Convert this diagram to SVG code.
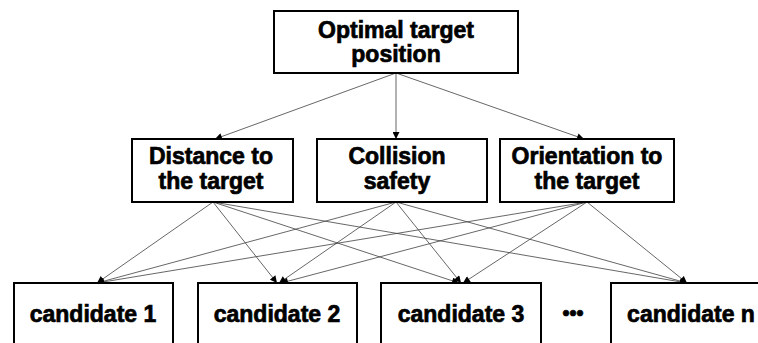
<svg xmlns="http://www.w3.org/2000/svg" width="758" height="343" viewBox="0 0 758 343">
<defs>
<style>
.box{fill:#fff;stroke:#000;stroke-width:2}
.t{font-family:"Liberation Sans",Arial,sans-serif;font-weight:bold;font-size:23px;fill:#000;stroke:#000;stroke-width:0.7;text-anchor:middle}
.e{stroke:#404040;stroke-width:0.8;fill:none;marker-end:url(#ah)}
</style>
<marker id="ah" viewBox="0 0 10 10" refX="10" refY="5" markerWidth="8" markerHeight="7" markerUnits="userSpaceOnUse" orient="auto">
<path d="M0,0 L10,5 L0,10 z" fill="#000"/>
</marker>
</defs>
<rect width="758" height="343" fill="#fff"/>
<g id="connectors">
<line class="e" x1="396" y1="73" x2="215" y2="139"/>
<line class="e" x1="396" y1="73" x2="396" y2="139"/>
<line class="e" x1="396" y1="73" x2="584" y2="139"/>
<line class="e" x1="213" y1="202" x2="97" y2="283"/>
<line class="e" x1="213" y1="202" x2="277" y2="283"/>
<line class="e" x1="213" y1="202" x2="459" y2="283"/>
<line class="e" x1="213" y1="202" x2="687" y2="283"/>
<line class="e" x1="396" y1="202" x2="97" y2="283"/>
<line class="e" x1="396" y1="202" x2="279" y2="283"/>
<line class="e" x1="396" y1="202" x2="461" y2="283"/>
<line class="e" x1="396" y1="202" x2="687" y2="283"/>
<line class="e" x1="587" y1="202" x2="97" y2="283"/>
<line class="e" x1="587" y1="202" x2="281" y2="283"/>
<line class="e" x1="587" y1="202" x2="463" y2="283"/>
<line class="e" x1="587" y1="202" x2="687" y2="283"/>
</g>
<g id="top">
<rect class="box" x="274" y="11" width="244" height="62"/>
<text class="t" x="396" y="38">Optimal target</text>
<text class="t" x="396" y="62">position</text>
</g>
<g id="distance">
<rect class="box" x="132" y="139" width="161" height="63"/>
<text class="t" x="211" y="164">Distance to</text>
<text class="t" x="211" y="189">the target</text>
</g>
<g id="collision">
<rect class="box" x="317" y="139" width="170" height="63"/>
<text class="t" x="397" y="164">Collision</text>
<text class="t" x="397" y="189">safety</text>
</g>
<g id="orientation">
<rect class="box" x="500" y="139" width="174" height="63"/>
<text class="t" x="587" y="164">Orientation to</text>
<text class="t" x="587" y="189">the target</text>
</g>
<g id="cand1">
<rect class="box" x="14" y="283" width="159" height="75"/>
<text class="t" x="93" y="322">candidate 1</text>
</g>
<g id="cand2">
<rect class="box" x="198" y="283" width="159" height="75"/>
<text class="t" x="277" y="322">candidate 2</text>
</g>
<g id="cand3">
<rect class="box" x="381" y="283" width="160" height="75"/>
<text class="t" x="461" y="322">candidate 3</text>
</g>
<g id="dots">
<text class="t" x="573" y="320" style="font-size:20px">•••</text>
</g>
<g id="candn">
<rect class="box" x="611" y="283" width="160" height="75"/>
<text class="t" x="691" y="322">candidate n</text>
</g>
</svg>
